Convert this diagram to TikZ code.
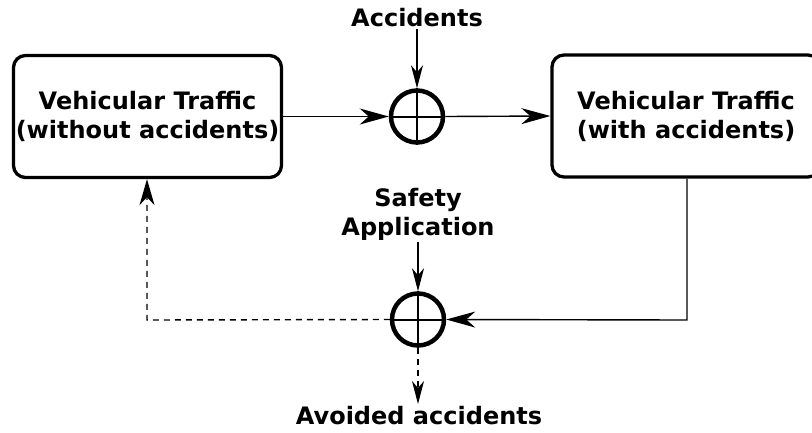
\documentclass[tikz,border=0pt]{standalone}
\usepackage{fontspec}
\setmainfont{DejaVu Sans}
\usetikzlibrary{arrows.meta}
\begin{document}
\begin{tikzpicture}[x=1pt,y=-1pt,
  box/.style={draw,line width=3.3pt,rounded corners=12pt,minimum width=268pt,minimum height=122pt,inner sep=0pt,align=center},
  sumnode/.style={circle,draw,line width=4.5pt,minimum size=52pt,inner sep=0pt},
  lbl/.style={align=center,inner sep=2pt},
  arrh/.style={line width=1.4pt,-{Stealth[length=29pt,width=16pt,inset=9pt]}},
  arrv/.style={line width=1.4pt,-{Stealth[length=23pt,width=12pt,inset=7pt]}},
  arrm/.style={line width=1.4pt,-{Stealth[length=26pt,width=15pt,inset=8pt]}},
  dashedline/.style={dash pattern=on 6pt off 5pt}
]
\useasboundingbox (0,0) rectangle (812,432);
\tikzset{every node/.append style={font=\fontsize{24}{29}\selectfont\bfseries}}
\node[box] (left) at (147.5,116.5) {Vehicular Traffic\\(without accidents)};
\node[box] (right) at (686,116) {Vehicular Traffic\\(with accidents)};
\node[sumnode] (s1) at (417,116.5) {};
\node[sumnode] (s2) at (418,319.5) {};
\draw[line width=2pt] (s1.north) -- (s1.south) (s1.west) -- (s1.east);
\draw[line width=2pt] (s2.north) -- (s2.south) (s2.west) -- (s2.east);
\node[lbl] (acc) at (417,18) {Accidents};
\node[lbl] (safe) at (418,214) {Safety\\Application};
\node[lbl] (avoid) at (419,416) {Avoided accidents};
\coordinate (rc) at (687,320);
\coordinate (lc) at (147,320);
\coordinate (av) at (418,404);
\draw[arrv] (acc.south) -- (s1.north);
\draw[arrh] (left.east) -- (s1.west);
\draw[arrh] (s1.east) -- (right.west);
\draw[arrv] (safe.south) -- (s2.north);
\draw[arrh] (right.south -| rc) -- (rc) -- (s2.east);
\draw[arrm,dashedline] (s2.west) -- (lc) -- (left.south -| lc);
\draw[arrv,dashedline] (s2.south) -- (av);
\end{tikzpicture}
\end{document}
